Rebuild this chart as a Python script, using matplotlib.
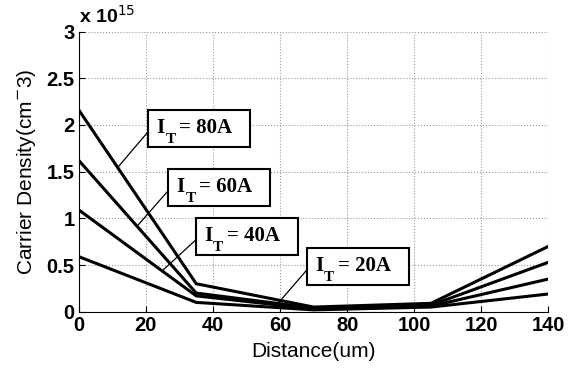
import numpy as np
import matplotlib
matplotlib.use("Agg")
import matplotlib.pyplot as plt
from matplotlib.patches import Rectangle

# ── Dados ──────────────────────────────────────────────────────────────────
distancia = [0, 35, 70, 105, 140]
dens_80A  = [2.16, 0.30, 0.05, 0.09, 0.70]
dens_60A  = [1.62, 0.20, 0.04, 0.07, 0.53]
dens_40A  = [1.09, 0.17, 0.03, 0.06, 0.35]
dens_20A  = [0.59, 0.10, 0.02, 0.05, 0.19]

rotulos   = ["80A", "60A", "40A", "20A"]
# ── Anotações (layout) ─────────────────────────────────────────────────────
alvos     = [(11.7, 1.55), (17.7, 0.93), (25.2, 0.45), (59.8, 0.107)]  # ponta da linha
cantos    = [(20.75, 2.162), (26.7, 1.529), (35.0, 1.004), (68.1, 0.683)]  # canto sup. esq.
LARG_CX   = 30.4    # largura da caixa (dados)
ALT_CX    = 0.397   # altura da caixa (dados)
# ───────────────────────────────────────────────────────────────────────────

fig = plt.figure(figsize=(5.84, 3.72), dpi=100)
ax = fig.add_axes([0.135, 0.162, 0.804, 0.753])

for serie in [dens_80A, dens_60A, dens_40A, dens_20A]:
    ax.plot(distancia, serie, color='black', linewidth=2.2, solid_joinstyle='miter')

ax.set_xlim(0, 140)
ax.set_ylim(0, 3)

fonte_cx = dict(fontfamily='Liberation Serif', fontweight='bold',
                textcoords='offset pixels', va='baseline', ha='left', zorder=5)

for rot, (xa, ya), (bx, by) in zip(rotulos, alvos, cantos):
    ax.add_patch(Rectangle((bx, by - ALT_CX), LARG_CX, ALT_CX, fc='white',
                           ec='black', lw=1.5, zorder=4))
    ax.plot([bx, xa], [by - 0.58 * ALT_CX, ya], color='black', lw=0.9, zorder=3)
    ax.annotate("I", xy=(bx, by), xytext=(8, -23), fontsize=15, **fonte_cx)
    ax.annotate("T", xy=(bx, by), xytext=(17, -33), fontsize=11, **fonte_cx)
    ax.annotate("= " + rot, xy=(bx, by), xytext=(31, -23), fontsize=15, **fonte_cx)

ax.set_xticks([0, 20, 40, 60, 80, 100, 120, 140])
ax.set_yticks([0, 0.5, 1, 1.5, 2, 2.5, 3])
ax.set_yticklabels(["0", "0.5", "1", "1.5", "2", "2.5", "3"])
ax.tick_params(direction='in', length=4, labelsize=14.5, width=0.8, pad=3)
for lab in ax.get_xticklabels() + ax.get_yticklabels():
    lab.set_fontweight('bold')
    lab.set_fontfamily('Liberation Sans')

ax.spines['top'].set_visible(False)
ax.spines['right'].set_visible(False)
ax.grid(True, linestyle=':', color='#999999', linewidth=0.8)

ax.set_xlabel("Distance(um)", fontsize=15, fontfamily='Liberation Sans', labelpad=5)
ax.set_ylabel("Carrier Density(cm$^{\\mathsf{-}}$3)", fontsize=15,
              fontfamily='Liberation Sans', labelpad=6)
ax.text(0.0, 1.032, r"x 10$^{\mathsf{15}}$", transform=ax.transAxes,
        fontsize=14, fontweight='bold', fontfamily='Liberation Sans',
        ha='left', va='baseline')

fig.savefig("out.png", dpi=100)
